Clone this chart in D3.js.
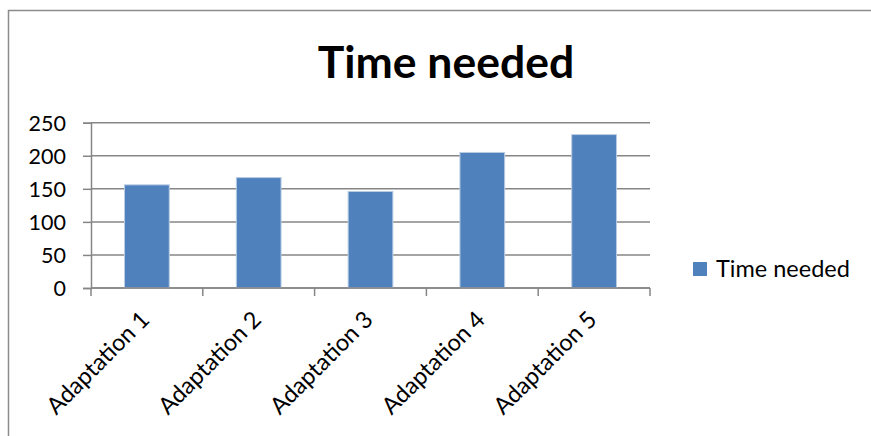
<!DOCTYPE html>
<html>
<head>
<meta charset="utf-8">
<script src="https://cdn.jsdelivr.net/npm/d3@7"></script>
<style>
  html, body { margin: 0; padding: 0; background: #fff; }
  svg text { font-family: Lato, "Noto Sans", sans-serif; fill: #000; }
</style>
</head>
<body>
<svg id="chart" width="871" height="436"></svg>
<script>
// Chart data
const categories = ["Adaptation 1", "Adaptation 2", "Adaptation 3", "Adaptation 4", "Adaptation 5"];
const timeNeeded = [156, 167, 146, 205, 232];
const yTicks = [0, 50, 100, 150, 200, 250];
const seriesName = "Time needed";
const chartTitle = "Time needed";

const svg = d3.select("#chart");
const W = 871, H = 436;
const plot = { left: 91, right: 650, top: 122.7, bottom: 288 };

// Outer chart border (cut off at right and bottom)
svg.append("path")
  .attr("d", `M8.5,${H} V10.5 H${W}`)
  .attr("fill", "none")
  .attr("stroke", "#8c8c8c")
  .attr("stroke-width", 1.5);

const x = d3.scaleBand()
  .domain(categories)
  .range([plot.left, plot.right])
  .paddingInner(0.6)
  .paddingOuter(0.3);

const y = d3.scaleLinear()
  .domain([0, 250])
  .range([plot.bottom, plot.top]);

// Horizontal gridlines
svg.append("g")
  .selectAll("line")
  .data(yTicks)
  .join("line")
  .attr("x1", plot.left)
  .attr("x2", plot.right)
  .attr("y1", d => y(d))
  .attr("y2", d => y(d))
  .attr("stroke", "#868686")
  .attr("stroke-width", 1.5);

// Y axis
const yAxis = svg.append("g")
  .attr("transform", `translate(${plot.left},0)`)
  .call(d3.axisLeft(y).tickValues(yTicks).tickSize(8).tickPadding(17));
yAxis.select(".domain").attr("stroke", "#868686").attr("stroke-width", 1.5);
yAxis.selectAll(".tick line").attr("stroke", "#868686").attr("stroke-width", 1.5);
yAxis.selectAll(".tick text")
  .attr("font-size", 21.5)
  .attr("dy", "0.36em");

// Bars
svg.append("g")
  .selectAll("rect")
  .data(categories.map((c, i) => ({ c, v: timeNeeded[i] })))
  .join("rect")
  .attr("x", d => x(d.c))
  .attr("width", x.bandwidth())
  .attr("y", d => y(d.v))
  .attr("height", d => y(0) - y(d.v))
  .attr("fill", "#4f81bd")
  .attr("stroke", "#b8cce4")
  .attr("stroke-width", 1);

// X axis baseline and boundary ticks
const step = x.step();
const boundaries = d3.range(categories.length + 1)
  .map(i => plot.left + i * step);
const xAxis = svg.append("g");
xAxis.append("line")
  .attr("x1", plot.left).attr("x2", plot.right)
  .attr("y1", y(0)).attr("y2", y(0))
  .attr("stroke", "#868686").attr("stroke-width", 1.5);
xAxis.selectAll("line.tk")
  .data(boundaries)
  .join("line")
  .attr("class", "tk")
  .attr("x1", d => d).attr("x2", d => d)
  .attr("y1", y(0)).attr("y2", y(0) + 8)
  .attr("stroke", "#868686").attr("stroke-width", 1.5);

// Rotated category labels
xAxis.selectAll("text")
  .data(categories)
  .join("text")
  .attr("transform", d => `translate(${x(d) + x.bandwidth() / 2 + 4},${y(0) + 33}) rotate(-45)`)
  .attr("text-anchor", "end")
  .attr("font-size", 23.5)
  .text(d => d);

// Title
svg.append("text")
  .attr("x", 446)
  .attr("y", 78)
  .attr("text-anchor", "middle")
  .attr("font-size", 44.5)
  .attr("font-weight", "bold")
  .text(chartTitle);

// Legend
const legend = svg.append("g").attr("transform", "translate(693,262)");
legend.append("rect")
  .attr("width", 14).attr("height", 14)
  .attr("fill", "#4f81bd");
legend.append("text")
  .attr("x", 23).attr("y", 15)
  .attr("font-size", 23.5)
  .text(seriesName);
</script>
</body>
</html>
